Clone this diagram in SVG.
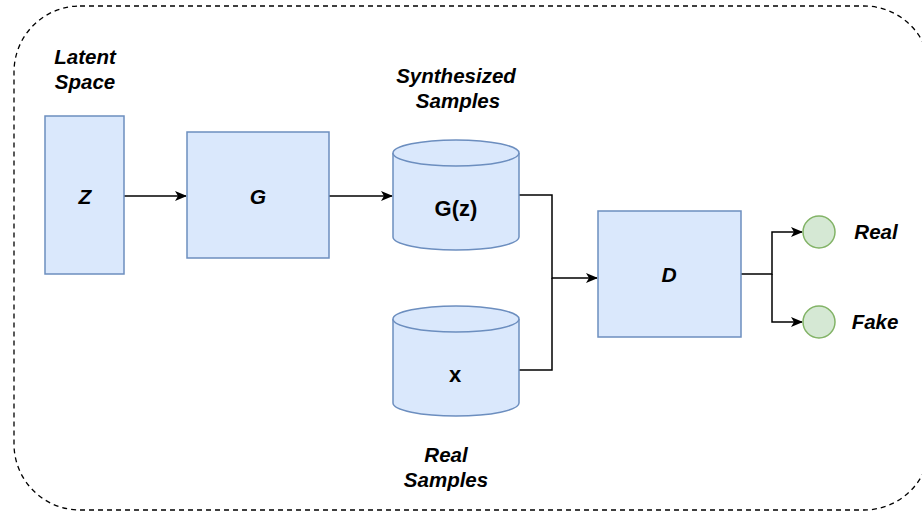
<svg xmlns="http://www.w3.org/2000/svg" width="922" height="512" viewBox="0 0 922 512">
<defs>
<style>
.box{fill:#dae8fc;stroke:#6c8ebf;stroke-width:1.5}
.circ{fill:#d5e8d4;stroke:#82b366;stroke-width:1.5}
.edge{fill:none;stroke:#000;stroke-width:1.5}
.t{font-family:"Liberation Sans",Arial,sans-serif;font-weight:bold;fill:#000;text-anchor:middle}
.i{font-style:italic}
</style>
<marker id="arr" viewBox="0 0 12 10" refX="11" refY="5" markerWidth="12" markerHeight="10" markerUnits="userSpaceOnUse" orient="auto">
<path d="M0,0 L12,5 L0,10 L3,5 Z" fill="#000"/>
</marker>
</defs>
<rect x="14" y="6" width="916" height="504" rx="66" ry="66" fill="none" stroke="#000" stroke-width="1.3" stroke-dasharray="5 4"/>
<g id="connectors">
<path class="edge" d="M124,196 L186,196" marker-end="url(#arr)"/>
<path class="edge" d="M329,196 L392,196" marker-end="url(#arr)"/>
<path class="edge" d="M519,195 L552,195 L552,278 L597,278" marker-end="url(#arr)"/>
<path class="edge" d="M519,370 L552,370 L552,278"/>
<path class="edge" d="M741,274 L772,274 L772,232 L802,232" marker-end="url(#arr)"/>
<path class="edge" d="M772,274 L772,322 L802,322" marker-end="url(#arr)"/>
</g>
<g id="latent-label"><text class="t i" x="85" y="64" font-size="20.5">Latent</text><text class="t i" x="85" y="89" font-size="20.5">Space</text></g>
<g id="z"><rect class="box" x="45" y="116" width="79" height="158"/><text class="t i" x="85" y="204" font-size="21">Z</text></g>
<g id="g"><rect class="box" x="187" y="132" width="142" height="126"/><text class="t i" x="258" y="204" font-size="21">G</text></g>
<g id="synth-label"><text class="t i" x="456" y="83" font-size="20.5">Synthesized</text><text class="t i" x="458" y="108" font-size="20.5">Samples</text></g>
<g id="gz">
<path class="box" d="M393,153 L393,237 A63,13 0 0 0 519,237 L519,153 A63,13 0 0 0 393,153 Z"/>
<path class="box" d="M393,153 A63,13 0 0 0 519,153" fill="none"/>
<text class="t" x="456" y="216" font-size="22">G(z)</text>
</g>
<g id="x">
<path class="box" d="M393,319 L393,403 A63,13 0 0 0 519,403 L519,319 A63,13 0 0 0 393,319 Z"/>
<path class="box" d="M393,319 A63,13 0 0 0 519,319" fill="none"/>
<text class="t" x="455" y="382" font-size="22">x</text>
</g>
<g id="real-label"><text class="t i" x="446" y="462" font-size="20.5">Real</text><text class="t i" x="446" y="487" font-size="20.5">Samples</text></g>
<g id="d"><rect class="box" x="598" y="211" width="143" height="126"/><text class="t i" x="669" y="282" font-size="21">D</text></g>
<g id="real"><circle class="circ" cx="819" cy="232" r="16"/><text class="t i" x="876" y="239" font-size="20.5">Real</text></g>
<g id="fake"><circle class="circ" cx="819" cy="322" r="16"/><text class="t i" x="875" y="329" font-size="20.5">Fake</text></g>
</svg>
